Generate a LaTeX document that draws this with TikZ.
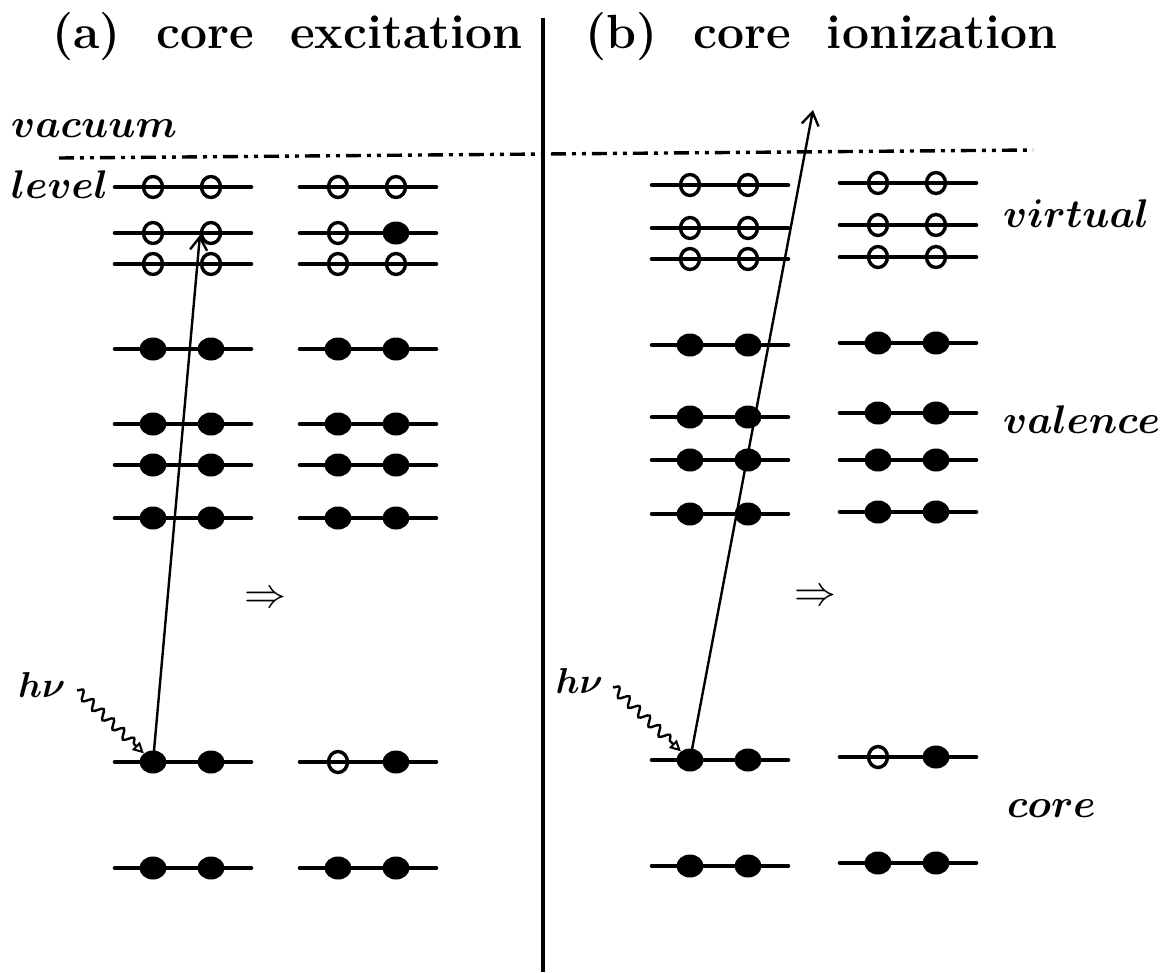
\RequirePackage{fix-cm}
\documentclass[tikz,border=0pt]{standalone}
\usetikzlibrary{shapes.geometric,arrows.meta,decorations.pathmorphing}

\tikzset{
  shellline/.style={line width=4.6pt, line cap=round},
  occ/.style={ellipse, fill=black, draw=none, inner sep=0pt, minimum width=27pt, minimum height=23pt},
  emp/.style={ellipse, draw=black, line width=3.4pt, inner sep=0pt, minimum width=19pt, minimum height=21pt},
  photon/.style={line width=2.4pt, decorate,
    decoration={snake, amplitude=4.5pt, segment length=14pt, post length=9pt},
    -{Triangle[open, length=11pt, width=11pt, line width=2pt]}},
  jump/.style={line width=2.4pt, -{Straight Barb[length=13pt, width=17pt, line width=2.4pt]}},
  vac/.style={line width=3.4pt, dash pattern=on 15pt off 6pt on 4pt off 6pt on 4pt off 6pt},
  divider/.style={line width=4.5pt},
  ttl/.style={font=\fontsize{48}{57}\selectfont\bfseries, inner sep=0pt, anchor=base west},
  lab/.style={font=\fontsize{40}{48}\selectfont\boldmath, inner sep=0pt, anchor=base west},
  imp/.style={font=\fontsize{42}{50}\selectfont, inner sep=0pt}
}

% one orbital: level line with two electron sites
% #1 name, #2 left end x, #3 y, #4 / #5 occupation of the two sites
\newcommand\shell[5]{%
  \draw[shellline] (#2,#3) -- ++(136,0);
  \node[#4] (#1-l) at ({#2+38},#3) {};
  \node[#5] (#1-r) at ({#2+96},#3) {};
}

\begin{document}
\begin{tikzpicture}[x=1pt,y=-1pt]
\useasboundingbox (0,0) rectangle (1170,972);

% titles
\node[ttl] (ta) at (52,48) {(a)\hspace{36pt}core\hspace{36pt}excitation};
\node[ttl] (tb) at (585,48) {(b)\hspace{36pt}core\hspace{36pt}ionization};

% panel divider and vacuum level
\coordinate (dtop) at (543,18);
\coordinate (dbot) at (543,972);
\draw[divider] (dtop) -- (dbot);
\coordinate (v0) at (59,158);
\coordinate (v1) at (1033,150);
\draw[vac] (v0) -- (v1);

% (a) ground state
\foreach \n/\y/\p/\q in {1/187/emp/emp, 2/233/emp/emp, 3/264/emp/emp,
    4/349/occ/occ, 5/424/occ/occ, 6/465/occ/occ, 7/518/occ/occ,
    8/762/occ/occ, 9/868/occ/occ}
  {\shell{aL\n}{115}{\y}{\p}{\q}}
% (a) core-excited state
\foreach \n/\y/\p/\q in {1/187/emp/emp, 2/233/emp/occ, 3/264/emp/emp,
    4/349/occ/occ, 5/424/occ/occ, 6/465/occ/occ, 7/518/occ/occ,
    8/762/emp/occ, 9/868/occ/occ}
  {\shell{aR\n}{300}{\y}{\p}{\q}}

% (b) ground state
\foreach \n/\y/\p/\q in {1/185/emp/emp, 2/228/emp/emp, 3/259/emp/emp,
    4/345/occ/occ, 5/417/occ/occ, 6/460/occ/occ, 7/514/occ/occ,
    8/760/occ/occ, 9/866/occ/occ}
  {\shell{bL\n}{652}{\y}{\p}{\q}}
% (b) core-ionized state
\foreach \n/\y/\p/\q in {1/183/emp/emp, 2/225/emp/emp, 3/257/emp/emp,
    4/343/occ/occ, 5/413/occ/occ, 6/460/occ/occ, 7/512/occ/occ,
    8/757/emp/occ, 9/863/occ/occ}
  {\shell{bR\n}{840}{\y}{\p}{\q}}

% transitions
\draw[jump] (aL8-l.center) -- (aL2-r.190);
\coordinate (escape) at (813,110);
\draw[jump] (bL8-l.center) -- (escape);

% incoming photons
\node[lab, font=\fontsize{36}{44}\selectfont\boldmath] (hva) at (18,697) {$h\nu$};
\node[lab, font=\fontsize{36}{44}\selectfont\boldmath, anchor=base east] (hvb) at (603,693) {$h\nu$};
\coordinate (pa) at (77,690);
\coordinate (pb) at (613,687);
\draw[photon] (pa) -- (aL8-l);
\draw[photon] (pb) -- (bL8-l);

% implication arrows
\node[imp] (ra) at (265,600) {$\Rightarrow$};
\node[imp] (rb) at (815,598) {$\Rightarrow$};

% level labels
\node[lab] (vacl) at (11,137) {$vacuum$};
\node[lab] (levl) at (11,198) {$level$};
\node[lab] (virl) at (1003,227) {$virtual$};
\node[lab] (vall) at (1003,433) {$valence$};
\node[lab] (corl) at (1007,817) {$core$};
\end{tikzpicture}
\end{document}
